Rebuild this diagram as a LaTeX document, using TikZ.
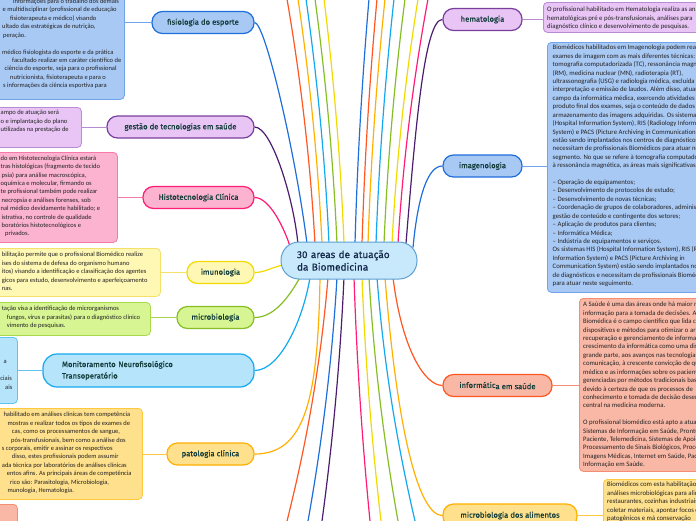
\documentclass[tikz,border=0pt]{standalone}
\usepackage{fontspec}
\setmainfont{Carlito}
\newfontfamily\labfont[FakeBold=0.5]{Fira Sans}
\newfontfamily\bodyfont{Carlito}
\usetikzlibrary{backgrounds}
\definecolor{cBlue}{HTML}{1F6FDB}
\definecolor{fBlue}{HTML}{A9C9F5}
\definecolor{bBlue}{HTML}{6FA3EC}
\definecolor{cPurple}{HTML}{4B1C70}
\definecolor{lPurple}{HTML}{7A3E9D}
\definecolor{fPurple}{HTML}{E8C5F5}
\definecolor{bPurple}{HTML}{B98BD3}
\definecolor{cPink}{HTML}{FF1C74}
\definecolor{fPink}{HTML}{FBB3CF}
\definecolor{bPink}{HTML}{F57AAA}
\definecolor{cYellow}{HTML}{F2DA00}
\definecolor{fYellow}{HTML}{FFF8B5}
\definecolor{bYellow}{HTML}{F5E06A}
\definecolor{cGreen}{HTML}{86BE24}
\definecolor{fGreen}{HTML}{D7F593}
\definecolor{bGreen}{HTML}{A9D84F}
\definecolor{cCyan}{HTML}{14A9EE}
\definecolor{fCyan}{HTML}{B5E4FB}
\definecolor{bCyan}{HTML}{5EC3F2}
\definecolor{cAmber}{HTML}{FFB000}
\definecolor{fAmber}{HTML}{FFE08C}
\definecolor{bAmber}{HTML}{FFC93D}
\definecolor{cOrange}{HTML}{FF5722}
\definecolor{fOrange}{HTML}{F9B8A6}
\definecolor{bOrange}{HTML}{F58D70}
\definecolor{cFill}{HTML}{C7E9FB}
\definecolor{cBorder}{HTML}{5DA0D6}
\definecolor{labtxt}{HTML}{113C3A}
\definecolor{bodytxt}{HTML}{222222}
\definecolor{tittxt}{HTML}{14284B}
\begin{document}
\begin{tikzpicture}[x=1pt,y=-1pt,
  lab/.style={draw, rounded corners=10.5pt, line width=1.2pt, minimum height=22pt, inner sep=0pt, font=\labfont\fontsize{7.7}{9}\selectfont, text=labtxt},
  box/.style={draw, rounded corners=4pt, line width=0.8pt, inner sep=0pt, anchor=north west},
  body/.style={anchor=north west, inner sep=0pt, align=left, font=\bodyfont\fontsize{6.5}{8.42}\selectfont, text=bodytxt},
  rbody/.style={body, font=\bodyfont\fontsize{6.75}{8.42}\selectfont},
  conn/.style={line width=0.8pt},
  cv/.style={line width=1.2pt}]
\useasboundingbox (0,0) rectangle (696,520);

% ---------- centre ----------
\node[draw=cBorder, fill=cFill, line width=1pt, rounded corners=18pt, minimum width=136pt, minimum height=37pt, inner xsep=16pt, inner ysep=0pt, text width=104pt, align=left, font=\labfont\fontsize{10}{12.5}\selectfont, text=tittxt] (c) at (349,260.5) {30 areas de atuação\\da Biomedicina};

% ---------- left boxes ----------
\node[box, draw=bBlue, fill=fBlue, minimum width=134pt, minimum height=109pt] (fisbox) at (-10,-10) {};
\node[body] (fistxt) at (0,-2.7) {\rule{0pt}{6pt}\hspace*{13pt}informações para o trabalho dos demais\\
\hspace*{2.5pt}e multidisciplinar (profissional de educação\\
\hspace*{10pt}fisioterapeuta e médico) visando\\
\hspace*{2pt}ultado das estratégicas de nutrição,\\
\hspace*{3pt}peração.\\
\mbox{}\\
\hspace*{2pt}médico fisiologista do esporte e da prática\\
\hspace*{12pt}facultado realizar em caráter científico de\\
\hspace*{4.5pt}ciência do esporte, seja para o profissional\\
\hspace*{10pt}nutricionista, fisioterapeuta e para o\\
\hspace*{3pt}s informações da ciência esportiva para};
\node[lab, draw=cBlue, fill=fBlue, minimum width=102pt] (fis) at (203,22.5) {fisiologia do esporte};

\node[box, draw=bPurple, fill=fPurple, minimum width=91pt, minimum height=40pt] (gesbox) at (-10,107) {};
\node[body] (gestxt) at (0,108.6) {\rule{0pt}{6pt}\hspace*{0.5pt}ampo de atuação será\\
\hspace*{0.5pt}o e implantação do plano\\
\hspace*{0.5pt}utilizadas na prestação de};
\node[lab, draw=lPurple, fill=fPurple, minimum width=147pt] (ges) at (180.5,127) {gestão de tecnologias em saúde};

\node[box, draw=bPink, fill=fPink, minimum width=127pt, minimum height=90pt] (hisbox) at (-10,152) {};
\node[body] (histxt) at (0,154) {\rule{0pt}{6pt}\hspace*{0.5pt}do em Histotecnologia Clínica estará\\
\hspace*{0.5pt}tras histológicas (fragmento de tecido\\
\hspace*{1.5pt}psia) para análise macroscópica,\\
\hspace*{0.5pt}oquímica e molecular, firmando os\\
\hspace*{0.5pt}te profissional também pode realizar\\
\hspace*{1.5pt}necropsia e análises forenses, sob\\
\hspace*{0.5pt}nal médico devidamente habilitado; e\\
\hspace*{1.5pt}istrativa, no controle de qualidade\\
\hspace*{1.5pt}boratórios histotecnológicos e\\
\hspace*{5pt}privados.};
\node[lab, draw=cPink, fill=fPink, minimum width=111pt] (his) at (198.5,197.5) {Histotecnologia Clínica};

\node[box, draw=bYellow, fill=fYellow, minimum width=170pt, minimum height=48pt] (imubox) at (-10,248) {};
\node[body] (imutxt) at (0,250.6) {\rule{0pt}{6pt}\hspace*{1.7pt}bilitação permite que o profissional Biomédico realize\\
\hspace*{1.7pt}ises do sistema de defesa do organismo humano\\
\hspace*{1.7pt}itos) visando a identificação e classificação dos agentes\\
\hspace*{1.7pt}gicos para estudo, desenvolvimento e aperfeiçoamento\\
\hspace*{1.7pt}nas.};
\node[lab, draw=cYellow, fill=fYellow, minimum width=67pt] (imu) at (220.5,272.5) {imunologia};

\node[box, draw=bGreen, fill=fGreen, minimum width=160pt, minimum height=33pt] (micbox) at (-10,302) {};
\node[body] (mictxt) at (0,304.6) {\rule{0pt}{6pt}\hspace*{1.7pt}tação visa a identificação de microrganismos\\
\hspace*{6.7pt}fungos, vírus e parasitas) para o diagnóstico clínico\\
\hspace*{6.7pt}vimento de pesquisas.};
\node[lab, draw=cGreen, fill=fGreen, minimum width=77pt] (mic) at (215.5,317.5) {microbiologia};

\node[box, draw=bCyan, fill=fCyan, minimum width=27pt, minimum height=66pt] (monbox) at (-10,337) {};
\node[body] (montxt) at (0,357.6) {\rule{0pt}{6pt}\hspace*{3.3pt}a\\
\mbox{}\\
\hspace*{0.3pt}ciais\\
\hspace*{5pt}ais};
\node[lab, draw=cCyan, fill=fCyan, minimum width=211pt, minimum height=33pt, rounded corners=14pt, inner xsep=19pt, text width=173pt, align=left, font=\labfont\fontsize{7.7}{11.5}\selectfont] (mon) at (148.5,370.5) {Monitoramento Neurofisológico\\Transoperatório};

\node[box, draw=bAmber, fill=fAmber, minimum width=152pt, minimum height=91pt] (patbox) at (-10,408) {};
\node[body] (pattxt) at (0,410.6) {\rule{0pt}{6pt}\hspace*{3.3pt}habilitado em análises clínicas tem competência\\
\hspace*{7.3pt}mostras e realizar todos os tipos de exames de\\
\hspace*{11.7pt}cas, como os processamentos de sangue,\\
\hspace*{11pt}pós-transfusionais, bem como a análise dos\\
\hspace*{1.7pt}s corporais, emitir e assinar os respectivos\\
\hspace*{11.7pt}disso, estes profissionais podem assumir\\
\hspace*{1.7pt}ada técnica por laboratórios de análises clínicas\\
\hspace*{6.7pt}entos afins. As principais áreas de competência\\
\hspace*{10pt}rico são: Parasitologia, Microbiologia,\\
\hspace*{7.3pt}munologia, Hematologia.};
\node[lab, draw=cAmber, fill=fAmber, minimum width=87pt] (pat) at (210.5,454) {patologia clínica};

\node[box, draw=bOrange, fill=fOrange, minimum width=27pt, minimum height=30pt] (salbox) at (-10,504) {};

% ---------- right side ----------
\node[lab, draw=lPurple, fill=fPurple, minimum width=79pt] (hem) at (482.5,19.5) {hematologia};
\node[box, draw=bPurple, fill=fPurple, minimum width=170pt, minimum height=30pt] (hembox) at (543,2) {};
\node[rbody] (hemtxt) at (547,5.6) {\rule{0pt}{6pt}O profissional habilitado em Hematologia realiza as análises\\
hematológicas pré e pós-transfusionais, análises para\\
diagnóstico clínico e desenvolvimento de pesquisas.};

\node[lab, draw=cBlue, fill=fBlue, minimum width=79pt] (img) at (482.5,166) {imagenologia};
\node[box, draw=bBlue, fill=fBlue, minimum width=170pt, minimum height=250pt] (imgbox) at (547,42) {};
\node[rbody] (imgtxt) at (552.5,43.6) {\rule{0pt}{6pt}Biomédicos habilitados em Imagenologia podem realizar\\
exames de imagem com as mais diferentes técnicas:\\
tomografia computadorizada (TC), ressonância magnética\\
(RM), medicina nuclear (MN), radioterapia (RT),\\
ultrassonografia (USG) e radiologia médica, excluída a\\
interpretação e emissão de laudos. Além disso, atuam no\\
campo da informática médica, exercendo atividades no\\
produto final dos exames, seja o conteúdo de dados e o\\
armazenamento das imagens adquiridas. Os sistemas HIS\\
(Hospital Information System), RIS (Radiology Information\\
System) e PACS (Picture Archiving in Communication\\
estão sendo implantados nos centros de diagnósticos e\\
necessitam de profissionais Biomédicos para atuar neste\\
segmento. No que se refere à tomografia computadorizada e\\
à ressonância magnética, as áreas mais significativas são:\\
\mbox{}\\
– Operação de equipamentos;\\
– Desenvolvimento de protocolos de estudo;\\
– Desenvolvimento de novas técnicas;\\
– Coordenação de grupos de colaboradores, administração,\\
gestão de conteúdo e contingente dos setores;\\
– Aplicação de produtos para clientes;\\
– Informática Médica;\\
– Indústria de equipamentos e serviços.\\
Os sistemas HIS (Hospital Information System), RIS (Radiology\\
Information System) e PACS (Picture Archiving in\\
Communication System) estão sendo implantados nos centros\\
de diagnósticos e necessitam de profissionais Biomédicos\\
para atuar neste seguimento.};

\node[lab, draw=cOrange, fill=fOrange, minimum width=109pt] (inf) at (497.5,385.5) {informátic\raisebox{-1.2pt}{a em saúde}};
\node[box, draw=bOrange, fill=fOrange, minimum width=140pt, minimum height=173pt] (infbox) at (579,298) {};
\node[rbody] (inftxt) at (583,300.6) {\rule{0pt}{6pt}A Saúde é uma das áreas onde há maior necessidade de\\
informação para a tomada de decisões. A Informática\\
Biomédica é o campo científico que lida com recursos,\\
dispositivos e métodos para otimizar o armazenamento,\\
recuperação e gerenciamento de informações\\
crescimento da informática como uma disciplina\\
grande parte, aos avanços nas tecnologias de\\
comunicação, à crescente convicção de que o\\
médico e as informações sobre os pacientes são\\
gerenciadas por métodos tradicionais baseados\\
devido à certeza de que os processos de\\
conhecimento e tomada de decisão desempenham\\
central na medicina moderna.\\
\mbox{}\\
O profissional biomédico está apto a atuar em\\
Sistemas de Informação em Saúde, Prontuário do\\
Paciente, Telemedicina, Sistemas de Apoio à Decisão,\\
Processamento de Sinais Biológicos, Processamento de\\
Imagens Médicas, Internet em Saúde, Padronização da\\
Informação em Saúde.};

\node[lab, draw=cAmber, fill=fAmber, minimum width=134pt, minimum height=23pt] (ali) at (510,515.5) {microbiologia dos alimentos};
\node[box, draw=bAmber, fill=fAmber, minimum width=110pt, minimum height=60pt] (alibox) at (603,479) {};
\node[rbody] (alitxt) at (607,480.6) {\rule{0pt}{6pt}Biomédicos com esta habilitação podem realizar\\
análises microbiológicas para alimentos em\\
restaurantes, cozinhas industriais,\\
coletar materiais, apontar focos de\\
patogênicos e má conservação};

% ---------- box/label connectors ----------
\draw[conn, bBlue] (fisbox.east |- fis.west) -- (fis.west);
\draw[conn, bPurple] (gesbox.east |- ges.west) -- (ges.west);
\draw[conn, bPink] (hisbox.east |- his.west) -- (his.west);
\draw[conn, bYellow] (imubox.east |- imu.west) -- (imu.west);
\draw[conn, bGreen] (micbox.east |- mic.west) -- (mic.west);
\draw[conn, bCyan] (monbox.east |- mon.west) -- (mon.west);
\draw[conn, bAmber] (patbox.east |- pat.west) -- (pat.west);
\draw[conn, bPurple] (hem.east) -- (hembox.west |- hem.east);
\draw[conn, bBlue] (img.east) -- (imgbox.west |- img.east);
\draw[conn, bOrange] (inf.east) -- (infbox.west |- inf.east);
\draw[conn, bAmber] (ali.east) -- (alibox.west |- ali.east);

% ---------- off-page ends ----------
\coordinate (tl1) at (287,-1);
\coordinate (tl2) at (298,-1);
\coordinate (tl3) at (306,-1);
\coordinate (tl4) at (315,-1);
\coordinate (tl5) at (324,-1);
\coordinate (tr1) at (369,-1);
\coordinate (tr2) at (377,-1);
\coordinate (tr3) at (385,-1);
\coordinate (tr4) at (394,-1);
\coordinate (tr5) at (405,-1);
\coordinate (tr6) at (418,-1);
\coordinate (tr7) at (428,-1);
\coordinate (b1) at (287,521);
\coordinate (b2) at (308,521);
\coordinate (b3) at (322,521);
\coordinate (b4) at (370,521);
\coordinate (b5) at (381,521);
\coordinate (b6) at (398,521);
\coordinate (b7) at (415,521);

\begin{scope}[on background layer]
\fill[white] (-5,-5) rectangle (701,525);
% curves to labels
\draw[cv,cBlue] ([xshift=-42pt,yshift=-2pt]c.north) .. controls (295,150) and (265,22.5) .. (fis.east);
\draw[cv,cPurple] ([xshift=-51pt,yshift=-3pt]c.north) .. controls (294,200) and (272,127) .. (ges.east);
\draw[cv,cPink] ([xshift=-59pt,yshift=-5pt]c.north) .. controls (285,230) and (270,197.5) .. (his.east);
\draw[cv,cYellow] ([xshift=3pt,yshift=-4.5pt]c.west) .. controls (272,267) and (265,272.5) .. (imu.east);
\draw[cv,cGreen] ([xshift=-49pt,yshift=2pt]c.south) .. controls (290,295) and (275,317.5) .. (mic.east);
\draw[cv,cCyan] ([xshift=-39pt,yshift=2pt]c.south) .. controls (303,320) and (280,370.5) .. (mon.east);
\draw[cv,cAmber] ([xshift=-29pt,yshift=2pt]c.south) .. controls (318,400) and (305,454) .. (pat.east);
\draw[cv,cPurple] ([xshift=57pt,yshift=-2pt]c.north) .. controls (416,120) and (425,19.5) .. (hem.west);
\draw[cv,cBlue] ([xshift=64pt,yshift=-6pt]c.north) .. controls (418,195) and (428,166) .. (img.west);
\draw[cv,cOrange] ([xshift=44pt,yshift=2pt]c.south) .. controls (402,350) and (425,385.5) .. (inf.west);
\draw[cv,cAmber] ([xshift=36pt,yshift=2pt]c.south) .. controls (398,440) and (420,515.5) .. (ali.west);
% off-page branches, top
\draw[cv,cOrange] ([xshift=-34pt,yshift=-2pt]c.north) .. controls (310.3,161.3) and (301,80.7) .. (tl1);
\draw[cv,cAmber] ([xshift=-27pt,yshift=-2pt]c.north) .. controls (318,161.3) and (310,80.7) .. (tl2);
\draw[cv,cCyan] ([xshift=-20pt,yshift=-2pt]c.north) .. controls (325.2,161.3) and (317.5,80.7) .. (tl3);
\draw[cv,cGreen] ([xshift=-12pt,yshift=-2pt]c.north) .. controls (333.3,161.3) and (326,80.7) .. (tl4);
\draw[cv,cYellow] ([xshift=-5pt,yshift=-2pt]c.north) .. controls (340.7,161.3) and (334,80.7) .. (tl5);
\draw[cv,cBlue] ([xshift=6pt,yshift=-2pt]c.north) .. controls (357.3,161.3) and (362,80.7) .. (tr1);
\draw[cv,cOrange] ([xshift=13pt,yshift=-2pt]c.north) .. controls (364.5,161.3) and (369.5,80.7) .. (tr2);
\draw[cv,cAmber] ([xshift=19pt,yshift=-2pt]c.north) .. controls (370.8,161.3) and (376.5,80.7) .. (tr3);
\draw[cv,cCyan] ([xshift=27pt,yshift=-2pt]c.north) .. controls (379,161.3) and (385,80.7) .. (tr4);
\draw[cv,cGreen] ([xshift=35pt,yshift=-2pt]c.north) .. controls (387.5,161.3) and (394.5,80.7) .. (tr5);
\draw[cv,cYellow] ([xshift=43pt,yshift=-2pt]c.north) .. controls (396.3,161.3) and (405,80.7) .. (tr6);
\draw[cv,cPink] ([xshift=49pt,yshift=-2pt]c.north) .. controls (403,161.3) and (413,80.7) .. (tr7);
% off-page branches, bottom
\draw[cv,cOrange] ([xshift=-21pt,yshift=2pt]c.south) .. controls (321.2,359.3) and (307.5,439.7) .. (b1);
\draw[cv,cBlue] ([xshift=-12pt,yshift=2pt]c.south) .. controls (332.2,359.3) and (322.5,439.7) .. (b2);
\draw[cv,cPurple] ([xshift=-5pt,yshift=2pt]c.south) .. controls (340.3,359.3) and (333,439.7) .. (b3);
\draw[cv,cPink] ([xshift=5pt,yshift=2pt]c.south) .. controls (356.7,359.3) and (362,439.7) .. (b4);
\draw[cv,cYellow] ([xshift=13pt,yshift=2pt]c.south) .. controls (365.2,359.3) and (371.5,439.7) .. (b5);
\draw[cv,cGreen] ([xshift=20pt,yshift=2pt]c.south) .. controls (373.8,359.3) and (383.5,439.7) .. (b6);
\draw[cv,cCyan] ([xshift=28pt,yshift=2pt]c.south) .. controls (383.3,359.3) and (396,439.7) .. (b7);
\end{scope}
\end{tikzpicture}
\end{document}
